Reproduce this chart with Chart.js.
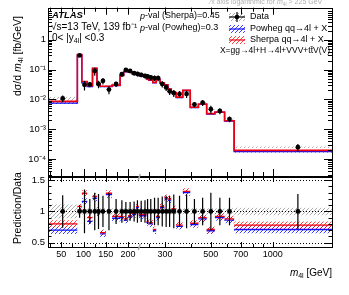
<!DOCTYPE html>
<html>
<head>
<meta charset="utf-8">
<script src="https://cdn.jsdelivr.net/npm/chart.js@4/dist/chart.umd.min.js"></script>
<style>
  html, body { margin: 0; padding: 0; background: #fff; }
  #wrap { position: relative; width: 349px; height: 295px; overflow: hidden; }
  canvas { position: absolute; left: 0; }
  #top { top: 0; }
  #ratio { top: 165px; }
</style>
</head>
<body>
<div id="wrap">
  <canvas id="top" width="349" height="185" style="width:349px;height:185px"></canvas>
  <canvas id="ratio" width="349" height="130" style="width:349px;height:130px"></canvas>
</div>
<script>
// bin edges in m4l [GeV]
var EDGES = [20, 86, 96, 108, 120, 130, 137, 150, 164, 182, 190, 200, 209, 218, 224, 236, 244, 250,
  262, 272, 284, 298, 310, 322, 340, 366, 398, 436, 478, 524, 584, 650, 2000];
// measured dsigma/dm4l [fb/GeV]
var DATA = [0.0108, 0.30, 0.031, 0.032, 0.090, 0.033, 0.042, 0.0214, 0.033, 0.070, 0.098, 0.090,
  0.076, 0.072, 0.067, 0.062, 0.059, 0.055, 0.052, 0.052, 0.033, 0.0254, 0.0188, 0.0165, 0.0153,
  0.0153, 0.0068, 0.0078, 0.0047, 0.0041, 0.0022, 0.00025];
// relative total error (error bar) and relative systematic (grey band)
var DATA_ERR = [0.26, 0.10, 0.35, 0.20, 0.30, 0.28, 0.25, 0.30, 0.20, 0.18, 0.15, 0.15, 0.16, 0.18,
  0.17, 0.18, 0.20, 0.20, 0.22, 0.22, 0.24, 0.25, 0.25, 0.27, 0.25, 0.27, 0.20, 0.22, 0.30, 0.22,
  0.22, 0.28];
var DATA_SYS = [0.11, 0.05, 0.05, 0.05, 0.05, 0.05, 0.05, 0.05, 0.05, 0.05, 0.05, 0.05, 0.05, 0.06,
  0.07, 0.06, 0.05, 0.05, 0.05, 0.05, 0.05, 0.05, 0.05, 0.05, 0.05, 0.05, 0.05, 0.05, 0.05, 0.05,
  0.05, 0.06];
// prediction / data
var R_SHERPA = [0.80, 1.08, 1.29, 0.90, 1.24, 1.02, 0.66, 1.29, 0.92, 0.92, 0.88, 0.93, 0.97, 1.08,
  0.95, 0.95, 0.84, 0.82, 0.71, 0.92, 1.08, 1.22, 1.20, 1.04, 0.78, 1.32, 0.81, 0.90, 0.71, 0.92,
  0.88, 0.78];
var R_POWHEG = [0.70, 1.02, 1.16, 0.84, 1.21, 0.96, 0.64, 1.27, 0.89, 0.90, 0.86, 0.91, 0.95, 1.06,
  0.93, 0.93, 0.82, 0.80, 0.69, 0.90, 1.06, 1.20, 1.18, 1.02, 0.76, 1.30, 0.79, 0.88, 0.69, 0.90,
  0.86, 0.71];
// relative half-width of the prediction bands
var U_SHERPA = [0.06, 0.04, 0.05, 0.05, 0.05, 0.05, 0.05, 0.05, 0.05, 0.05, 0.05, 0.05, 0.05, 0.05,
  0.05, 0.05, 0.05, 0.05, 0.05, 0.05, 0.05, 0.05, 0.05, 0.05, 0.05, 0.05, 0.05, 0.05, 0.05, 0.05,
  0.05, 0.06];
var U_POWHEG = [0.06, 0.04, 0.05, 0.05, 0.05, 0.05, 0.05, 0.05, 0.05, 0.05, 0.05, 0.05, 0.05, 0.05,
  0.05, 0.05, 0.05, 0.05, 0.05, 0.05, 0.05, 0.05, 0.05, 0.05, 0.05, 0.05, 0.05, 0.05, 0.05, 0.05,
  0.05, 0.06];

var X_TICKS = [50, 100, 150, 200, 300, 500, 700, 1000];
var X_MINOR = [25, 75, 125, 175, 250, 300, 400, 500, 600, 700, 800, 900];
var Y_TICKS = [1e-4, 1e-3, 1e-2, 1e-1, 1];
var Y_LABELS = ['10\u207B\u2074', '10\u207B\u00B3', '10\u207B\u00B2', '10\u207B\u00B9', '1'];
var R_TICKS = [0.5, 1, 1.5];

var FONT = "'Liberation Sans', Arial, sans-serif";
Chart.defaults.font.family = FONT;
Chart.defaults.font.size = 9;
Chart.defaults.color = '#000';

// x axis: linear up to 225 GeV, logarithmic above
var BREAK = 225, LOG_SPAN = 463;
function toU(v) { return v <= BREAK ? v : BREAK + LOG_SPAN * Math.log10(v / BREAK); }
function fromU(u) { return u <= BREAK ? u : BREAK * Math.pow(10, (u - BREAK) / LOG_SPAN); }

class HybridScale extends Chart.LinearScale {
  getPixelForValue(v) {
    if (v === null || v === undefined) return NaN;
    var a = toU(this.min), b = toU(this.max);
    return this.getPixelForDecimal((toU(v) - a) / (b - a));
  }
  getValueForPixel(p) {
    var a = toU(this.min), b = toU(this.max);
    return fromU(a + this.getDecimalForPixel(p) * (b - a));
  }
}
HybridScale.id = 'hybrid';
HybridScale.defaults = { ticks: { callback: function(v) { return String(v); } } };
Chart.register(HybridScale);

function hatch(color) {
  var c = document.createElement('canvas');
  c.width = 4; c.height = 4;
  var g = c.getContext('2d');
  g.strokeStyle = color;
  g.lineWidth = 1;
  g.beginPath();
  g.moveTo(0, 4); g.lineTo(4, 0);
  g.moveTo(-1, 1); g.lineTo(1, -1);
  g.moveTo(3, 5); g.lineTo(5, 3);
  g.stroke();
  return g.createPattern(c, 'repeat');
}
var RED = '#f00010', BLUE = '#1010ff';
var redHatch = hatch('rgba(255,0,0,0.75)');
var blueHatch = hatch('rgba(0,0,255,0.75)');
var greyHatch = hatch('rgba(120,120,120,0.6)');

var centers = DATA.map(function(d, i) { return (EDGES[i] + EDGES[i + 1]) / 2; });

function boxes(vals) {
  var pts = [];
  vals.forEach(function(v, i) {
    pts.push({ x: EDGES[i], y: v }, { x: EDGES[i + 1], y: v }, { x: EDGES[i + 1], y: null });
  });
  return pts;
}
function steps(vals) {
  var pts = vals.map(function(v, i) { return { x: EDGES[i], y: v }; });
  pts.push({ x: EDGES[vals.length], y: vals[vals.length - 1] });
  return pts;
}
function bars(ys, errs) {
  var pts = [];
  ys.forEach(function(y, i) {
    pts.push({ x: centers[i], y: y * (1 - errs[i]) }, { x: centers[i], y: y * (1 + errs[i]) },
      { x: centers[i], y: null });
  });
  return pts;
}
function scaled(a, b, sign) { return a.map(function(v, i) { return v * (1 + sign * b[i]); }); }
function times(a, b) { return a.map(function(v, i) { return v * b[i]; }); }

function lineDs(data, color, width, extra) {
  var ds = { type: 'line', data: data, borderColor: color, borderWidth: width, pointRadius: 0,
    fill: false, spanGaps: false, tension: 0 };
  for (var k in extra) ds[k] = extra[k];
  return ds;
}
function bandDs(lower, upper, pattern) {
  return [
    lineDs(upper, 'rgba(0,0,0,0)', 0, {}),
    lineDs(lower, 'rgba(0,0,0,0)', 0, { fill: '-1', backgroundColor: pattern })
  ];
}

// frame with inward ticks on all four sides, ATLAS style
var framePlugin = {
  id: 'frame',
  afterDraw: function(chart, args, o) {
    var ctx = chart.ctx, a = chart.chartArea, x = chart.scales.x, y = chart.scales.y;
    ctx.save();
    ctx.strokeStyle = '#000';
    ctx.lineWidth = 1;
    ctx.beginPath();
    function vt(v, len) {
      var px = Math.round(x.getPixelForValue(v)) + 0.5;
      ctx.moveTo(px, a.bottom); ctx.lineTo(px, a.bottom - len);
      ctx.moveTo(px, a.top); ctx.lineTo(px, a.top + len);
    }
    function ht(v, len) {
      var py = Math.round(y.getPixelForValue(v)) + 0.5;
      ctx.moveTo(a.left, py); ctx.lineTo(a.left + len, py);
      ctx.moveTo(a.right, py); ctx.lineTo(a.right - len, py);
    }
    X_TICKS.forEach(function(v) { vt(v, o.xMajor); });
    X_MINOR.forEach(function(v) { vt(v, o.xMinor); });
    o.yMajorTicks.forEach(function(v) { ht(v, o.yMajor); });
    o.yMinorTicks.forEach(function(v) { ht(v, o.yMinor); });
    ctx.stroke();
    (o.dotted || []).forEach(function(v) {
      var py = Math.round(y.getPixelForValue(v)) + 0.5;
      ctx.beginPath();
      ctx.setLineDash([1, 2]);
      ctx.moveTo(a.left, py); ctx.lineTo(a.right, py);
      ctx.stroke();
    });
    ctx.setLineDash([]);
    ctx.strokeRect(Math.round(a.left) + 0.5, Math.round(a.top) + 0.5,
      Math.round(a.right - a.left), Math.round(a.bottom - a.top));
    // grey mark where the x axis turns logarithmic
    if (o.breakMark) {
      var bx = x.getPixelForValue(BREAK);
      ctx.strokeStyle = '#aaa';
      ctx.lineWidth = 1.5;
      ctx.beginPath();
      ctx.moveTo(bx - 1, a.top + 3); ctx.lineTo(bx + 1, a.top - 3);
      ctx.moveTo(bx - 1, a.bottom + 3); ctx.lineTo(bx + 1, a.bottom - 3);
      ctx.stroke();
    }
    ctx.restore();
  }
};

function sub(ctx, x, y, main, small, size, italicMain) {
  ctx.font = (italicMain ? 'italic ' : '') + size + 'px ' + FONT;
  ctx.fillText(main, x, y);
  x += ctx.measureText(main).width;
  ctx.font = Math.round(size * 0.72) + 'px ' + FONT;
  ctx.fillText(small, x, y + 3);
  return x + ctx.measureText(small).width;
}

var textPlugin = {
  id: 'texts',
  afterDraw: function(chart) {
    var ctx = chart.ctx;
    ctx.save();
    ctx.fillStyle = '#000';
    ctx.textBaseline = 'middle';
    ctx.textAlign = 'left';
    ctx.font = 'italic bold 9.5px ' + FONT;
    ctx.fillText('ATLAS', 52, 15);
    ctx.font = '10px ' + FONT;
    ctx.fillText('\u221As=13 TeV, 139 fb\u207B\u00B9', 51, 27);
    var x = 52;
    ctx.fillText('0< |y', x, 38);
    x += ctx.measureText('0< |y').width;
    ctx.font = '7px ' + FONT;
    ctx.fillText('4l', x, 41);
    x += ctx.measureText('4l').width;
    ctx.font = '10px ' + FONT;
    ctx.fillText('| <0.3', x, 38);

    [['(Sherpa)=0.45', 16], ['(Powheg)=0.3', 28]].forEach(function(r) {
      ctx.font = 'italic 9px ' + FONT;
      ctx.fillText('p', 140, r[1]);
      var w = ctx.measureText('p').width;
      ctx.font = '9px ' + FONT;
      ctx.fillText('-val ' + r[0], 140 + w, r[1]);
    });

    // legend
    var lx = 229, lw = 16;
    function box(yc, pattern, color) {
      ctx.fillStyle = pattern;
      ctx.fillRect(lx, yc - 4, lw, 8);
      ctx.strokeStyle = color;
      ctx.lineWidth = 1.2;
      ctx.beginPath(); ctx.moveTo(lx, yc); ctx.lineTo(lx + lw, yc); ctx.stroke();
    }
    box(17, greyHatch, '#000');
    ctx.strokeStyle = '#000';
    ctx.beginPath(); ctx.moveTo(lx + lw / 2, 12); ctx.lineTo(lx + lw / 2, 22); ctx.stroke();
    ctx.fillStyle = '#000';
    ctx.beginPath(); ctx.arc(lx + lw / 2, 17, 2.3, 0, Math.PI * 2); ctx.fill();
    box(29, blueHatch, BLUE);
    box(40, redHatch, RED);
    ctx.fillStyle = '#000';
    ctx.font = '9px ' + FONT;
    ctx.fillText('Data', 250, 17);
    ctx.fillText('Powheg qq\u21924l + X', 250, 29);
    ctx.fillText('Sherpa qq\u21924l + X', 250, 40);
    ctx.textAlign = 'right';
    ctx.font = '8.5px ' + FONT;
    ctx.fillText('X=gg\u21924l+H\u21924l+VVV+tt\u0304V(V)', 330, 51);

    // note about the axis
    ctx.textAlign = 'left';
    ctx.fillStyle = '#b0b0b0';
    ctx.font = '7px ' + FONT;
    ctx.fillText('\u2044x axis logarithmic for ', 210, 2);
    var nx = 210 + ctx.measureText('\u2044x axis logarithmic for ').width;
    nx = sub(ctx, nx, 2, 'm', '4l', 7, true);
    ctx.font = '7px ' + FONT;
    ctx.fillText(' > 225 GeV', nx, 2);

    // y title
    ctx.fillStyle = '#000';
    ctx.translate(18, 8);
    ctx.rotate(-Math.PI / 2);
    ctx.textAlign = 'left';
    var t = -88;
    ctx.font = '10.5px ' + FONT;
    ctx.fillText('d\u03C3/d ', t, 0);
    t += ctx.measureText('d\u03C3/d ').width;
    ctx.font = 'italic 10.5px ' + FONT;
    ctx.fillText('m', t, 0);
    t += ctx.measureText('m').width;
    ctx.font = '7.5px ' + FONT;
    ctx.fillText('4l', t, 3);
    t += ctx.measureText('4l').width;
    ctx.font = '10.5px ' + FONT;
    ctx.fillText(' [fb/GeV]', t, 0);
    ctx.restore();
  }
};

var ratioText = {
  id: 'ratioText',
  afterDraw: function(chart) {
    var ctx = chart.ctx;
    ctx.save();
    ctx.fillStyle = '#000';
    ctx.textBaseline = 'middle';
    // x title, right aligned at the frame edge
    var w1, w2, w3;
    ctx.font = 'italic 10px ' + FONT; w1 = ctx.measureText('m').width;
    ctx.font = '7px ' + FONT; w2 = ctx.measureText('4l').width;
    ctx.font = '10px ' + FONT; w3 = ctx.measureText(' [GeV]').width;
    var x0 = chart.chartArea.right - w1 - w2 - w3;
    sub(ctx, x0, 108, 'm', '4l', 10, true);
    ctx.font = '10px ' + FONT;
    ctx.fillText(' [GeV]', x0 + w1 + w2, 108);
    // y title
    ctx.translate(18, 43);
    ctx.rotate(-Math.PI / 2);
    ctx.textAlign = 'center';
    ctx.font = '10.5px ' + FONT;
    ctx.fillText('Prediction/Data', 0, 0);
    ctx.restore();
  }
};

var xScale = {
  type: 'hybrid', min: 20, max: 1940,
  afterBuildTicks: function(s) { s.ticks = X_TICKS.map(function(v) { return { value: v }; }); },
  grid: { display: false, drawTicks: false }, border: { display: false },
  ticks: { autoSkip: false, maxRotation: 0, padding: 2, callback: function(v) { return String(v); } }
};

function yMinorLog() {
  var out = [];
  [1e-5, 1e-4, 1e-3, 1e-2, 1e-1, 1].forEach(function(d) {
    for (var k = 2; k <= 9; k++) out.push(d * k);
  });
  return out.filter(function(v) { return v > 2.7e-5 && v < 12; });
}

var sherpa = times(DATA, R_SHERPA), powheg = times(DATA, R_POWHEG);

new Chart(document.getElementById('top'), {
  type: 'line',
  data: {
    datasets: [
      lineDs(centers.map(function(c, i) { return { x: c, y: DATA[i] }; }), '#000', 0,
        { showLine: false, pointRadius: 2.4, pointBackgroundColor: '#000', pointBorderWidth: 0 }),
      lineDs(bars(DATA, DATA_ERR), '#000', 1.2, {}),
      lineDs(steps(sherpa), RED, 1.6, { stepped: true }),
      lineDs(steps(powheg), BLUE, 1.4, { stepped: true })
    ].concat(
      bandDs(boxes(scaled(sherpa, U_SHERPA, -1)), boxes(scaled(sherpa, U_SHERPA, 1)), redHatch),
      bandDs(boxes(scaled(powheg, U_POWHEG, -1)), boxes(scaled(powheg, U_POWHEG, 1)), blueHatch),
      bandDs(boxes(scaled(DATA, DATA_SYS, -1)), boxes(scaled(DATA, DATA_SYS, 1)), greyHatch)
    )
  },
  options: {
    responsive: false, animation: false,
    layout: { padding: { top: 5, right: 17, bottom: 9, left: 0 } },
    plugins: {
      legend: { display: false }, tooltip: { enabled: false },
      frame: { xMajor: 7, xMinor: 4, yMajor: 8, yMinor: 4, yMajorTicks: Y_TICKS,
        yMinorTicks: yMinorLog() },
    },
    scales: {
      x: Object.assign({}, xScale, { display: false }),
      y: {
        type: 'logarithmic', min: 2.7e-5, max: 12,
        afterFit: function(s) { s.width = 48; },
        afterBuildTicks: function(s) { s.ticks = Y_TICKS.map(function(v) { return { value: v }; }); },
        grid: { display: false, drawTicks: false }, border: { display: false },
        ticks: { padding: 2, autoSkip: false, font: { size: 9.5 },
          callback: function(v) { return Y_LABELS[Y_TICKS.indexOf(v)]; } }
      }
    }
  },
  plugins: [framePlugin, textPlugin]
});

var ones = DATA.map(function() { return 1; });
new Chart(document.getElementById('ratio'), {
  type: 'line',
  data: {
    datasets: [
      lineDs(centers.map(function(c) { return { x: c, y: 1 }; }), '#000', 0,
        { showLine: false, pointRadius: 2.4, pointBackgroundColor: '#000', pointBorderWidth: 0 }),
      lineDs(bars(ones, DATA_ERR), '#000', 1.2, {}),
      lineDs(boxes(R_SHERPA), RED, 1.4, {}),
      lineDs(boxes(R_POWHEG), BLUE, 1.4, {})
    ].concat(
      bandDs(boxes(R_SHERPA.map(function(r, i) { return r - U_SHERPA[i]; })),
        boxes(R_SHERPA.map(function(r, i) { return r + U_SHERPA[i]; })), redHatch),
      bandDs(boxes(R_POWHEG.map(function(r, i) { return r - U_POWHEG[i]; })),
        boxes(R_POWHEG.map(function(r, i) { return r + U_POWHEG[i]; })), blueHatch),
      bandDs(boxes(scaled(ones, DATA_SYS, -1)), boxes(scaled(ones, DATA_SYS, 1)), greyHatch)
    )
  },
  options: {
    responsive: false, animation: false,
    layout: { padding: { top: 12, right: 17, bottom: 0, left: 0 } },
    plugins: {
      legend: { display: false }, tooltip: { enabled: false },
      frame: { xMajor: 5, xMinor: 3, yMajor: 7, yMinor: 3.5, yMajorTicks: R_TICKS,
        yMinorTicks: [0.6, 0.7, 0.8, 0.9, 1.1, 1.2, 1.3, 1.4], dotted: [0.5, 1, 1.5], breakMark: true }
    },
    scales: {
      x: Object.assign({}, xScale, { afterFit: function(s) { s.height = 48; } }),
      y: {
        type: 'linear', min: 0.43, max: 1.55,
        afterFit: function(s) { s.width = 48; },
        afterBuildTicks: function(s) { s.ticks = R_TICKS.map(function(v) { return { value: v }; }); },
        grid: { display: false, drawTicks: false }, border: { display: false },
        ticks: { padding: 3, autoSkip: false, font: { size: 9.5 },
          callback: function(v) { return String(v); } }
      }
    }
  },
  plugins: [framePlugin, ratioText]
});
</script>
</body>
</html>
